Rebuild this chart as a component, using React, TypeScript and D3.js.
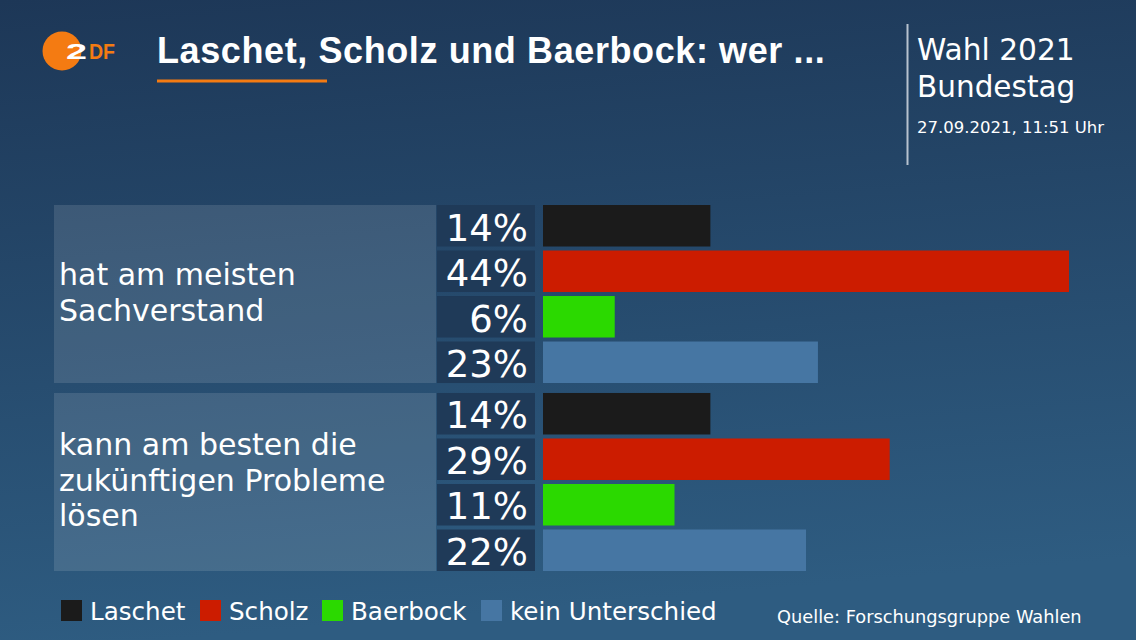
import * as d3 from "d3";

const W = 1136;
const H = 640;

const questions = [
  ["hat am meisten", "Sachverstand"],
  ["kann am besten die", "zukünftigen Probleme", "lösen"],
];
const candidates = ["Laschet", "Scholz", "Baerbock", "kein Unterschied"];
const colors = ["#1b1b1b", "#cc1c00", "#2bd900", "#4676a3"];
const sachverstand = [14, 44, 6, 23];
const probleme = [14, 29, 11, 22];
const values = [sachverstand, probleme];

const FONT = "'DejaVu Sans', 'Noto Sans', sans-serif";
const TITLE_FONT = "'Liberation Sans', Arial, sans-serif";

export default function App() {
  const x = d3.scaleLinear().domain([0, 44]).range([543, 1069]);
  const yGroup = d3
    .scaleBand<number>()
    .domain(d3.range(questions.length))
    .range([205, 571])
    .paddingInner(0.053);
  const yRow = d3
    .scaleBand<string>()
    .domain(candidates)
    .range([0, yGroup.bandwidth()])
    .paddingInner(0.088);
  const color = d3.scaleOrdinal<string, string>().domain(candidates).range(colors);

  const legendX = [61, 200, 322, 481];

  return (
    <svg
      width={W}
      height={H}
      style={{ position: "absolute", left: 0, top: 0, display: "block" }}
      fontFamily={FONT}
    >
      <defs>
        <linearGradient id="bg" x1="0" y1="0" x2="0.15" y2="1">
          <stop offset="0" stopColor="#1d3757" />
          <stop offset="1" stopColor="#2e5c81" />
        </linearGradient>
      </defs>
      <rect width={W} height={H} fill="url(#bg)" />

      {/* logo */}
      <circle cx={62} cy={51} r={19.5} fill="#f47b12" />
      <text
        x={66}
        y={59}
        fontSize={22}
        fontWeight={700}
        fontFamily={TITLE_FONT}
        fill="#fff"
        textLength={21}
        lengthAdjust="spacingAndGlyphs"
      >
        2
      </text>
      <text
        x={89}
        y={59}
        fontSize={22}
        fontWeight={700}
        fontFamily={TITLE_FONT}
        fill="#f47b12"
        textLength={26}
        lengthAdjust="spacingAndGlyphs"
      >
        DF
      </text>

      {/* title */}
      <text
        x={157}
        y={63}
        fontSize={36}
        fontWeight={700}
        fontFamily={TITLE_FONT}
        letterSpacing={0.6}
        fill="#fff"
      >
        Laschet, Scholz und Baerbock: wer ...
      </text>
      <rect x={157} y={79.5} width={170} height={3} fill="#f47b12" />

      {/* header right */}
      <line x1={907.5} x2={907.5} y1={24} y2={165} stroke="#b7c2cf" strokeWidth={2} />
      <text x={917} y={60} fontSize={29.7} fill="#fff">
        Wahl 2021
      </text>
      <text x={917} y={97} fontSize={29.5} fill="#fff">
        Bundestag
      </text>
      <text x={917} y={133} fontSize={16.5} fill="#fff">
        27.09.2021, 11:51 Uhr
      </text>

      {/* groups */}
      {questions.map((lines, gi) => {
        const gy = yGroup(gi)!;
        const gh = yGroup.bandwidth();
        const mid = gy + gh / 2;
        const lh = 35.5;
        const first = mid - ((lines.length - 1) * lh) / 2 + 9;
        return (
          <g key={gi}>
            <rect x={54} y={gy} width={382} height={gh} fill="#ffffff" fillOpacity={0.12} />
            {lines.map((l, li) => (
              <text key={li} x={59} y={first + li * lh} fontSize={30} fill="#fff">
                {l}
              </text>
            ))}
            {candidates.map((c, ci) => {
              const ry = gy + yRow(c)!;
              const rh = yRow.bandwidth();
              const v = values[gi][ci];
              return (
                <g key={c}>
                  <rect x={437} y={ry} width={98} height={rh} fill="#1f3a58" />
                  <text x={528} y={ry + rh - 6} fontSize={37} fill="#fff" textAnchor="end">
                    {v}%
                  </text>
                  <rect x={x(0)} y={ry} width={x(v) - x(0)} height={rh} fill={color(c)} />
                </g>
              );
            })}
          </g>
        );
      })}

      {/* legend */}
      {candidates.map((c, i) => (
        <g key={c}>
          <rect x={legendX[i]} y={600} width={21} height={21} fill={color(c)} />
          <text x={legendX[i] + 29} y={620} fontSize={24.6} fill="#fff">
            {c}
          </text>
        </g>
      ))}
      <text x={777} y={623} fontSize={17.8} fill="#fff">
        Quelle: Forschungsgruppe Wahlen
      </text>
    </svg>
  );
}
